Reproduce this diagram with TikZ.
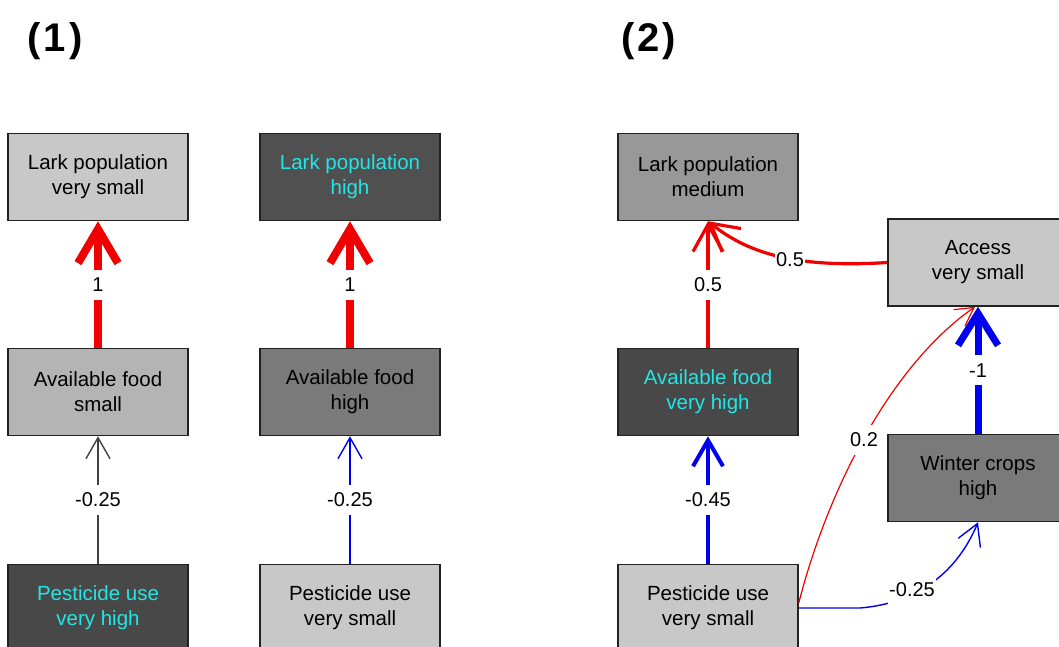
\documentclass[tikz,border=0pt]{standalone}
\usepackage{fontspec}
\setmainfont{Liberation Sans}
\usetikzlibrary{arrows.meta}
\definecolor{boxline}{HTML}{222222}
\definecolor{gA}{HTML}{C8C8C8}
\definecolor{gB}{HTML}{B4B4B4}
\definecolor{gC}{HTML}{989898}
\definecolor{gD}{HTML}{7A7A7A}
\definecolor{gE}{HTML}{505050}
\definecolor{gF}{HTML}{484848}
\definecolor{cyantext}{HTML}{22E6E6}
\definecolor{lred}{HTML}{F00000}
\definecolor{lblue}{HTML}{0000F0}
\definecolor{lgray}{HTML}{404040}
\tikzset{
  varbox/.style={draw=boxline, line width=1.5pt, minimum width=180pt, minimum height=87pt,
    align=center, inner sep=0pt, font=\fontsize{20.5}{25}\selectfont},
  lightbox/.style={varbox, fill=#1, text=black},
  darkbox/.style={varbox, fill=#1, text=cyantext},
  wlabel/.style={fill=white, inner sep=2pt, minimum height=30pt, font=\fontsize{20}{24}\selectfont},
  title/.style={inner sep=0pt, font=\fontsize{40}{44}\selectfont\bfseries},
  bigred/.style={draw=lred, line width=8pt, -{Straight Barb[length=34pt, width=40pt]}},
  bigblue/.style={draw=lblue, line width=7pt, -{Straight Barb[length=32pt, width=40pt]}},
  midred/.style={draw=lred, line width=3.2pt, -{Straight Barb[length=27pt, width=30pt]}},
  midblue/.style={draw=lblue, line width=4pt, -{Straight Barb[length=26pt, width=30pt]}},
  thinblue/.style={draw=lblue, line width=1.4pt, -{Straight Barb[length=21pt, width=24pt]}},
  thingray/.style={draw=lgray, line width=1.4pt, -{Straight Barb[length=21pt, width=24pt]}},
  thinred/.style={draw=lred, line width=1.2pt, -{Straight Barb[length=18pt, width=20pt]}},
}
\begin{document}
\begin{tikzpicture}[x=1pt, y=-1pt]
\useasboundingbox (0,0) rectangle (1059,646);
\clip (0,0) rectangle (1059,646);

% titles
\node[title] (t1) at (55,41) {(\kern3pt1\kern3pt)};
\node[title] (t2) at (648.5,41) {(\kern3pt2\kern3pt)};

% diagram (1), first column
\node[lightbox=gA] (alark) at (98,177) {Lark population\\very small};
\node[lightbox=gB] (afood) at (98,392) {Available food\\small};
\node[darkbox=gF]  (apest) at (98,608) {Pesticide use\\very high};

% diagram (1), second column
\node[darkbox=gE]  (blark) at (350,177) {Lark population\\high};
\node[lightbox=gD] (bfood) at (350,392) {Available food\\high};
\node[lightbox=gA] (bpest) at (350,608) {Pesticide use\\very small};

% diagram (2)
\node[lightbox=gC] (clark) at (708,177) {Lark population\\medium};
\node[darkbox=gF]  (cfood) at (708,392) {Available food\\very high};
\node[lightbox=gA] (cpest) at (708,608) {Pesticide use\\very small};
\node[lightbox=gA] (access) at (978,262.5) {Access\\very small};
\node[lightbox=gD] (winter) at (978,478) {Winter crops\\high};

% connectors (1)
\draw[bigred] (afood.north) -- (alark.south) node[midway, wlabel] {1};
\draw[thingray] (apest.north) -- (afood.south) node[midway, wlabel] {-0.25};
\draw[bigred] (bfood.north) -- (blark.south) node[midway, wlabel] {1};
\draw[thinblue] (bpest.north) -- (bfood.south) node[midway, wlabel] {-0.25};

% connectors (2)
\draw[midred] (cfood.north) -- (clark.south) node[midway, wlabel] {0.5};
\draw[midblue] (cpest.north) -- (cfood.south) node[midway, wlabel] {-0.45};
\draw[bigblue] (winter.north) -- (access.south) node[midway, wlabel] {-1};
\draw[midred] (access.west) .. controls (800,268) and (750,255) .. (clark.south);
\node[wlabel, inner sep=1pt] (l05) at (790,260) {0.5};
\draw[thinred] ([yshift=5pt]cpest.east) .. controls (825,500) and (885,370) .. ([xshift=-3pt]access.south);
\node[wlabel, inner sep=1pt] (l02) at (864,440) {0.2};
\draw[thinblue] (cpest.east) -- (860,608) .. controls (920,603) and (958,570) .. (winter.south);
\node[wlabel, inner sep=1pt] (l025) at (912,590) {-0.25};
\end{tikzpicture}
\end{document}
